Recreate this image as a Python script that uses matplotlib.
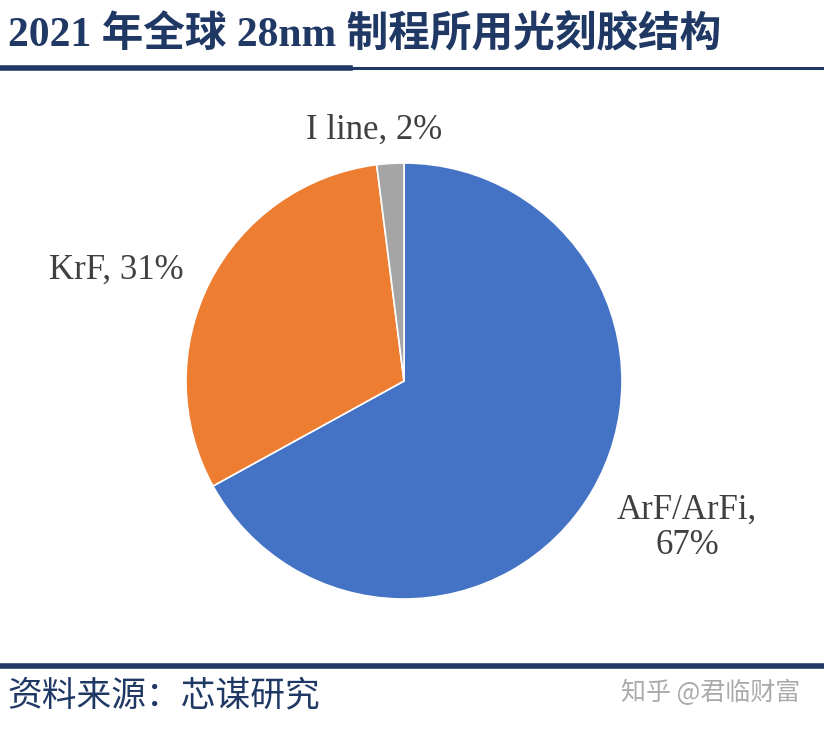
import matplotlib
matplotlib.use("Agg")
import matplotlib.pyplot as plt
from matplotlib.lines import Line2D

# data
names = ["ArF/ArFi", "KrF", "I line"]
shares = [67, 31, 2]
colors = ["#4472C4", "#ED7D31", "#A5A5A5"]

title = "2021 年全球 28nm 制程所用光刻胶结构"
source = "资料来源：芯谋研究"
mark = "知乎 @君临财富"

W, H = 824, 731
fig = plt.figure(figsize=(W / 100, H / 100), dpi=100)

def fx(x):
    return x / W

def fy(y):
    return 1 - y / H

# pie, centre (404, 381), radius 218 px
cx, cy, r = 404, 381, 218
ax = fig.add_axes([fx(cx - r), fy(cy + r), 2 * r / W, 2 * r / H])
ax.pie(shares, colors=colors, startangle=90, counterclock=False, radius=1,
       wedgeprops=dict(edgecolor="white", linewidth=1.2))
ax.set_xlim(-1, 1)
ax.set_ylim(-1, 1)
ax.axis("off")

serif = ["Liberation Serif", "Noto Sans CJK SC"]
lab_color = "#404040"
fig.text(fx(687), fy(528), "%s,\n%d%%" % (names[0], shares[0]), ha="center", va="center",
         fontsize=25, family=serif, color=lab_color, linespacing=1.1)
fig.text(fx(116), fy(270), "%s, %d%%" % (names[1], shares[1]), ha="center", va="center",
         fontsize=25, family=serif, color=lab_color)
fig.text(fx(374), fy(130), "%s, %d%%" % (names[2], shares[2]), ha="center", va="center",
         fontsize=25, family=serif, color=lab_color)

# title and rules
navy = "#1F3864"
fig.text(fx(8), fy(35), title, ha="left", va="center", fontsize=30, fontweight="bold",
         family=serif, color=navy)
fig.add_artist(Line2D([0, fx(350)], [fy(68), fy(68)], color=navy, linewidth=4))
fig.add_artist(Line2D([fx(350), 1], [fy(68), fy(68)], color=navy, linewidth=2.2))
fig.add_artist(Line2D([0, 1], [fy(666), fy(666)], color=navy, linewidth=4))

fig.text(fx(7), fy(696), source, ha="left", va="center", fontsize=25,
         family=["Noto Sans CJK SC", "DejaVu Sans"], color=navy)
fig.text(fx(800), fy(693), mark, ha="right", va="center", fontsize=18,
         family=["Noto Sans CJK SC", "DejaVu Sans"], color="#AAAAAA")

fig.savefig("out.png", dpi=100)
